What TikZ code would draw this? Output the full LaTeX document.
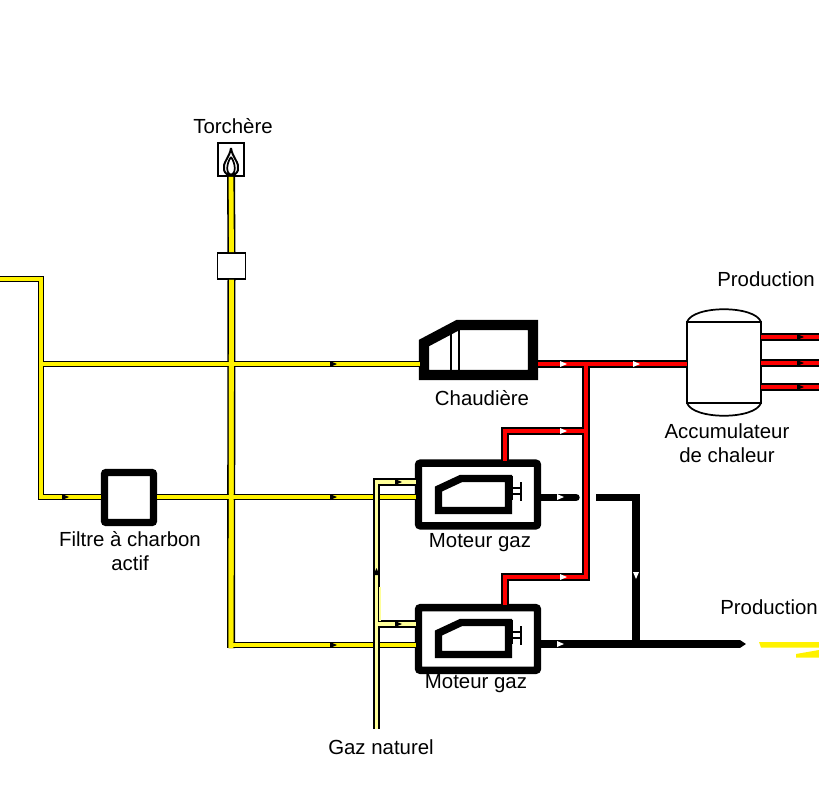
\documentclass[tikz,border=0pt]{standalone}
\usepackage{fontspec}
\setmainfont{Liberation Sans}
\usetikzlibrary{arrows.meta}
\definecolor{palegas}{RGB}{255,255,153}
\tikzset{
	gaspipe/.style={draw=black,line width=1.3pt,double=yellow,double distance=2.4pt},
	gasmain/.style={draw=black,line width=1.2pt,double=yellow,double distance=3.6pt},
	naturalpipe/.style={draw=black,line width=1.3pt,double=palegas,double distance=2.8pt},
	heatpipe/.style={draw=black,line width=1.3pt,double=red,double distance=3.2pt},
	powerpipe/.style={draw=black,line width=5.6pt},
	enginebox/.style={draw,rounded corners=1.5pt,line width=5.6pt,minimum width=89.25pt,minimum height=47pt,inner sep=0pt},
	filterbox/.style={draw,rounded corners=1.5pt,line width=5.6pt,minimum width=36.75pt,minimum height=37.5pt,inner sep=0pt},
	thinbox/.style={draw,fill=white,line width=1.3pt,inner sep=0pt},
	pics/burner/.style={code={
		\draw[line width=5.6pt,miter limit=4] (3.5,14)--(3.5,35.5)--(73.5,35.5)--(73.5,3.5)--(26,3.5)--cycle;
		\draw[line width=1.3pt] (77,1)--(77,25) (77,13)--(86,13) (77,19)--(86,19) (86,7)--(86,26);
	}},
	pics/flowtip/.style={code={\fill (-3,-3)--(4,0)--(-3,3)--cycle;}},
}
\begin{document}
\begin{tikzpicture}[x=.75pt,y=-.75pt,font=\fontsize{15.3}{18}\selectfont]
	\useasboundingbox (0,0) rectangle (819,803);
	% apparatus
	\node[thinbox,minimum width=19.5pt,minimum height=24.75pt] (torch) at (231,159.5) {};
	\node[thinbox,minimum width=21pt,minimum height=19.5pt] (valve) at (231.5,266) {};
	\node[filterbox] (filter) at (129,497.5) {};
	\node[enginebox] (engineA) at (478,494.5) {};
	\node[enginebox] (engineB) at (478,639) {};
	\draw[thinbox] (687,322) rectangle (761,403);
	\coordinate (tank) at (687,364);
	\draw[line width=1.3pt] (687,322) .. controls (693,305) and (755,305) .. (761,322);
	\draw[line width=1.3pt] (687,403) .. controls (693,420) and (755,420) .. (761,403);
	\draw[line width=7.8pt,miter limit=4] (424,343)--(424,375)--(533,375)--(533,325)--(458,325)--cycle;
	\draw[line width=1.3pt] (451,334)--(451,371) (459,330)--(459,371);
	\coordinate (boilerin) at (420,364);
	\coordinate (boilerout) at (538,364);
	\pic at (435,475) {burner};
	\pic at (435,619) {burner};
	\draw[line width=1.5pt] (231,148) .. controls (232,157) and (240,163) .. (238,170) .. controls (236,177) and (226,177) .. (224,170) .. controls (222,163) and (230,157) .. (231,148);
	\draw[line width=1.3pt] (231,157) .. controls (226,164) and (226,174) .. (231,175) .. controls (236,174) and (236,164) .. (231,157);
	% gas lines
	\coordinate (inlet) at (0,279);
	\coordinate (inletcorner) at (41,279);
	\coordinate (inletfoot) at (41,497);
	\coordinate (tee) at (41,364);
	\coordinate (mainB) at (231,645);
	\coordinate (mainfoot) at (231,648);
	\coordinate (gasA) at (416,497);
	\coordinate (gasB) at (416,645);
	\draw[gasmain] (torch.south)--(valve.north);
	\draw[gasmain] (valve.south)--(mainfoot);
	\draw[gaspipe] (inlet)--(inletcorner)--(inletfoot)--(filter.west|-inletfoot) (tee)--(boilerin);
	\draw[gaspipe] (filter.east|-gasA)--(gasA);
	\draw[gaspipe] (mainB)--(gasB);
	\draw[yellow,line width=3.6pt] (valve.south)--(mainfoot);
	\coordinate (natural) at (376.5,729);
	\coordinate (naturalcorner) at (376.5,482);
	\coordinate (naturalA) at (416,482);
	\coordinate (naturaltee) at (376.5,624);
	\coordinate (naturalB) at (416,624);
	\draw[naturalpipe] (natural)--(naturalcorner)--(naturalA) (naturaltee)--(naturalB);
	\coordinate (paleedge) at (380,587);
	\coordinate (paleedgeend) at (380,621);
	\draw[palegas,line width=1.1pt] (paleedge)--(paleedgeend);
	% heat lines
	\coordinate (heatdown) at (586,364);
	\coordinate (heatfoot) at (586,577);
	\coordinate (heatA) at (586,431);
	\coordinate (heatAcorner) at (505,431);
	\coordinate (heatAend) at (505,461);
	\coordinate (heatBcorner) at (505,577);
	\coordinate (heatBend) at (505,605);
	\draw[heatpipe] (boilerout)--(tank) (heatdown)--(heatfoot)--(heatBcorner)--(heatBend) (heatA)--(heatAcorner)--(heatAend);
	\foreach \y/\name in {337/one,363/two,387/three}{
		\coordinate (tankout\name) at (761,\y);
		\coordinate (user\name) at (819,\y);
		\draw[heatpipe] (tankout\name)--(user\name);
	}
	% power lines
	\coordinate (stubA) at (576,497.5);
	\coordinate (busstart) at (596,497.5);
	\coordinate (buscorner) at (636,497.5);
	\coordinate (busfoot) at (636,644);
	\coordinate (engineBout) at (541,644);
	\coordinate (gridend) at (746,644);
	\draw[powerpipe,line cap=round] (engineA.east|-stubA)--(stubA);
	\draw[powerpipe] (busstart)--(buscorner)--(busfoot);
	\draw[powerpipe,-{Triangle[length=4.5pt,width=5.6pt]}] (engineBout)--(gridend);
	\fill[yellow] (759,642)--(819,642)--(819,647.5)--(761,647.5)--cycle;
	\fill[yellow] (796,654)--(819,650)--(819,657.5)--(796,657.5)--cycle;
	% flow marks
	\foreach \x/\y in {333/364,333/497,333/645,65/497,398/482,398/624,800/337,800/363,800/387}
		\pic at (\x,\y) {flowtip};
	\pic[rotate=90] at (376.5,572) {flowtip};
	\foreach \x/\y in {563/364,636/364,563/431,563/577,560/497,560/644}
		\pic[white] at (\x,\y) {flowtip};
	\pic[white,rotate=-90] at (636,575) {flowtip};
	% labels
	\node (torchlabel) at (233,126) {Torchère};
	\node[anchor=west,inner sep=0pt] (heatlabel) at (717,279) {Production};
	\node[anchor=west,inner sep=0pt] (powerlabel) at (720,607) {Production};
	\node (boilerlabel) at (482,398) {Chaudière};
	\node[align=center] (tanklabel) at (727,443) {Accumulateur\\de chaleur};
	\node[align=center] (filterlabel) at (130,551) {Filtre à charbon\\actif};
	\node (engineAlabel) at (480,543) {Moteur gaz};
	\node (engineBlabel) at (476,684) {Moteur gaz};
	\node (naturallabel) at (381,747) {Gaz naturel};
\end{tikzpicture}
\end{document}
